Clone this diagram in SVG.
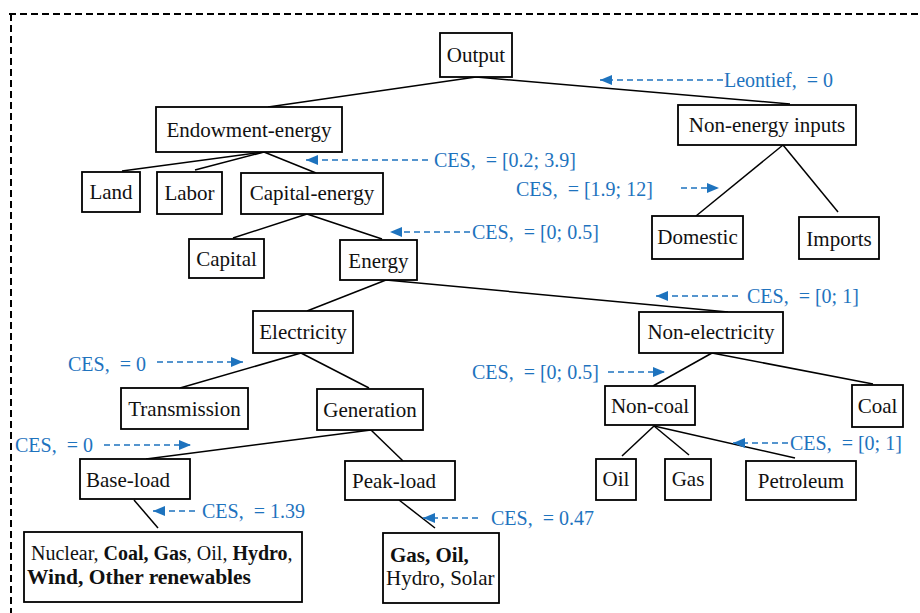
<svg xmlns="http://www.w3.org/2000/svg" width="920" height="613" viewBox="0 0 920 613">
<style>
.box{fill:#fff;stroke:#000;stroke-width:1.8}
.t{font-family:"Liberation Serif","Times New Roman",serif;font-size:21px;fill:#111;text-anchor:middle}
.tl{font-family:"Liberation Serif","Times New Roman",serif;font-size:21px;fill:#111}
.b{font-weight:bold}
.lbl{font-family:"Liberation Serif","Times New Roman",serif;font-size:20px;fill:#1e73be;white-space:pre}
.edge{stroke:#000;stroke-width:1.5;fill:none}
.arr{stroke:#1e73be;stroke-width:1.6;stroke-dasharray:6 4;fill:none;marker-end:url(#ah)}
.border{stroke:#000;stroke-width:2;stroke-dasharray:7 4;fill:none}
</style>
<defs>
<marker id="ah" viewBox="0 0 12 10" refX="12" refY="5" markerWidth="12" markerHeight="10" markerUnits="userSpaceOnUse" orient="auto">
<path d="M0,0 L12,5 L0,10 z" fill="#1e73be"/>
</marker>
</defs>
<rect width="920" height="613" fill="#fff"/>
<g id="border">
<line class="border" x1="9" y1="14" x2="920" y2="14"/>
<line class="border" x1="11" y1="14" x2="11" y2="613"/>
</g>
<g id="connectors">
<line class="edge" x1="476" y1="77" x2="268" y2="107"/>
<line class="edge" x1="476" y1="77" x2="790" y2="104"/>
<line class="edge" x1="264" y1="152" x2="122" y2="171"/>
<line class="edge" x1="264" y1="152" x2="195" y2="170"/>
<line class="edge" x1="264" y1="152" x2="316" y2="173"/>
<line class="edge" x1="307" y1="214" x2="233" y2="238"/>
<line class="edge" x1="307" y1="214" x2="382" y2="239"/>
<line class="edge" x1="783" y1="145" x2="696" y2="216"/>
<line class="edge" x1="783" y1="145" x2="838" y2="212"/>
<line class="edge" x1="386" y1="280" x2="307" y2="311"/>
<line class="edge" x1="386" y1="280" x2="728" y2="312"/>
<line class="edge" x1="301" y1="353" x2="180" y2="388"/>
<line class="edge" x1="301" y1="353" x2="369" y2="388"/>
<line class="edge" x1="712" y1="353" x2="653" y2="386"/>
<line class="edge" x1="712" y1="353" x2="873" y2="384"/>
<line class="edge" x1="371" y1="430" x2="146" y2="459"/>
<line class="edge" x1="371" y1="430" x2="403" y2="461"/>
<line class="edge" x1="654" y1="426" x2="622" y2="456"/>
<line class="edge" x1="654" y1="426" x2="689" y2="455"/>
<line class="edge" x1="654" y1="426" x2="795" y2="458"/>
<line class="edge" x1="134" y1="500" x2="158" y2="528"/>
<line class="edge" x1="399" y1="500" x2="435" y2="528"/>
<line class="arr" x1="723" y1="80" x2="600" y2="80"/>
<line class="arr" x1="428" y1="160" x2="306" y2="160"/>
<line class="arr" x1="681" y1="188" x2="719" y2="188"/>
<line class="arr" x1="470" y1="232" x2="390" y2="232"/>
<line class="arr" x1="738" y1="296" x2="656" y2="296"/>
<line class="arr" x1="157" y1="362" x2="243" y2="362"/>
<line class="arr" x1="608" y1="372" x2="665" y2="372"/>
<line class="arr" x1="104" y1="445" x2="191" y2="445"/>
<line class="arr" x1="788" y1="443" x2="733" y2="443"/>
<line class="arr" x1="195" y1="511" x2="153" y2="511"/>
<line class="arr" x1="478" y1="518" x2="423" y2="518"/>
</g>
<g id="labels">
<text class="lbl" x="724" y="87">Leontief,  = 0</text>
<text class="lbl" x="434" y="167">CES,  = [0.2; 3.9]</text>
<text class="lbl" x="516" y="196">CES,  = [1.9; 12]</text>
<text class="lbl" x="472" y="239">CES,  = [0; 0.5]</text>
<text class="lbl" x="747" y="303">CES,  = [0; 1]</text>
<text class="lbl" x="68" y="371">CES,  = 0</text>
<text class="lbl" x="472" y="379">CES,  = [0; 0.5]</text>
<text class="lbl" x="15" y="452">CES,  = 0</text>
<text class="lbl" x="790" y="450">CES,  = [0; 1]</text>
<text class="lbl" x="202" y="518">CES,  = 1.39</text>
<text class="lbl" x="491" y="525">CES,  = 0.47</text>
</g>
<g id="output"><rect class="box" x="440" y="33" width="72" height="44"/><text class="t" x="476" y="62">Output</text></g>
<g id="endowment-energy"><rect class="box" x="156" y="107" width="186" height="45"/><text class="t" x="249" y="137">Endowment-energy</text></g>
<g id="non-energy-inputs"><rect class="box" x="678" y="105" width="178" height="40"/><text class="t" x="767" y="132">Non-energy inputs</text></g>
<g id="land"><rect class="box" x="82" y="172" width="58" height="40"/><text class="t" x="111" y="199">Land</text></g>
<g id="labor"><rect class="box" x="157" y="172" width="65" height="42"/><text class="t" x="189.5" y="200">Labor</text></g>
<g id="capital-energy"><rect class="box" x="241" y="173" width="142" height="41"/><text class="t" x="312" y="200">Capital-energy</text></g>
<g id="capital"><rect class="box" x="189" y="239" width="75" height="39"/><text class="t" x="226.5" y="266">Capital</text></g>
<g id="energy"><rect class="box" x="340" y="240" width="77" height="40"/><text class="t" x="378.5" y="268">Energy</text></g>
<g id="domestic"><rect class="box" x="652" y="216" width="91" height="43"/><text class="t" x="697.5" y="244">Domestic</text></g>
<g id="imports"><rect class="box" x="799" y="217" width="80" height="42"/><text class="t" x="839" y="246">Imports</text></g>
<g id="electricity"><rect class="box" x="253" y="311" width="100" height="42"/><text class="t" x="303" y="339">Electricity</text></g>
<g id="non-electricity"><rect class="box" x="639" y="312" width="144" height="41"/><text class="t" x="711" y="339">Non-electricity</text></g>
<g id="transmission"><rect class="box" x="121" y="388" width="127" height="41"/><text class="t" x="184.5" y="416">Transmission</text></g>
<g id="generation"><rect class="box" x="317" y="389" width="106" height="41"/><text class="t" x="370" y="417">Generation</text></g>
<g id="non-coal"><rect class="box" x="605" y="386" width="90" height="39"/><text class="t" x="650" y="413">Non-coal</text></g>
<g id="coal"><rect class="box" x="852" y="385" width="51" height="42"/><text class="t" x="877.5" y="413">Coal</text></g>
<g id="base-load"><rect class="box" x="80" y="459" width="110" height="40"/><text class="t" x="128" y="487">Base-load</text></g>
<g id="peak-load"><rect class="box" x="345" y="461" width="110" height="39"/><text class="t" x="394" y="488">Peak-load</text></g>
<g id="oil"><rect class="box" x="596" y="459" width="40" height="41"/><text class="t" x="616" y="486">Oil</text></g>
<g id="gas"><rect class="box" x="665" y="459" width="46" height="41"/><text class="t" x="688" y="486">Gas</text></g>
<g id="petroleum"><rect class="box" x="746" y="461" width="110" height="39"/><text class="t" x="801" y="488">Petroleum</text></g>
<g id="base-load-techs"><rect class="box" x="24" y="532" width="278" height="70"/>
<text class="tl" x="31" y="560" style="font-size:20px">Nuclear, <tspan class="b">Coal, Gas</tspan>, Oil, <tspan class="b">Hydro</tspan>,</text>
<text class="tl b" x="27" y="584" style="font-size:21.5px">Wind, Other renewables</text></g>
<g id="peak-load-techs"><rect class="box" x="383" y="533" width="116" height="70"/>
<text class="tl b" x="390" y="562">Gas, Oil,</text>
<text class="tl" x="386" y="585">Hydro, Solar</text></g>
</svg>
